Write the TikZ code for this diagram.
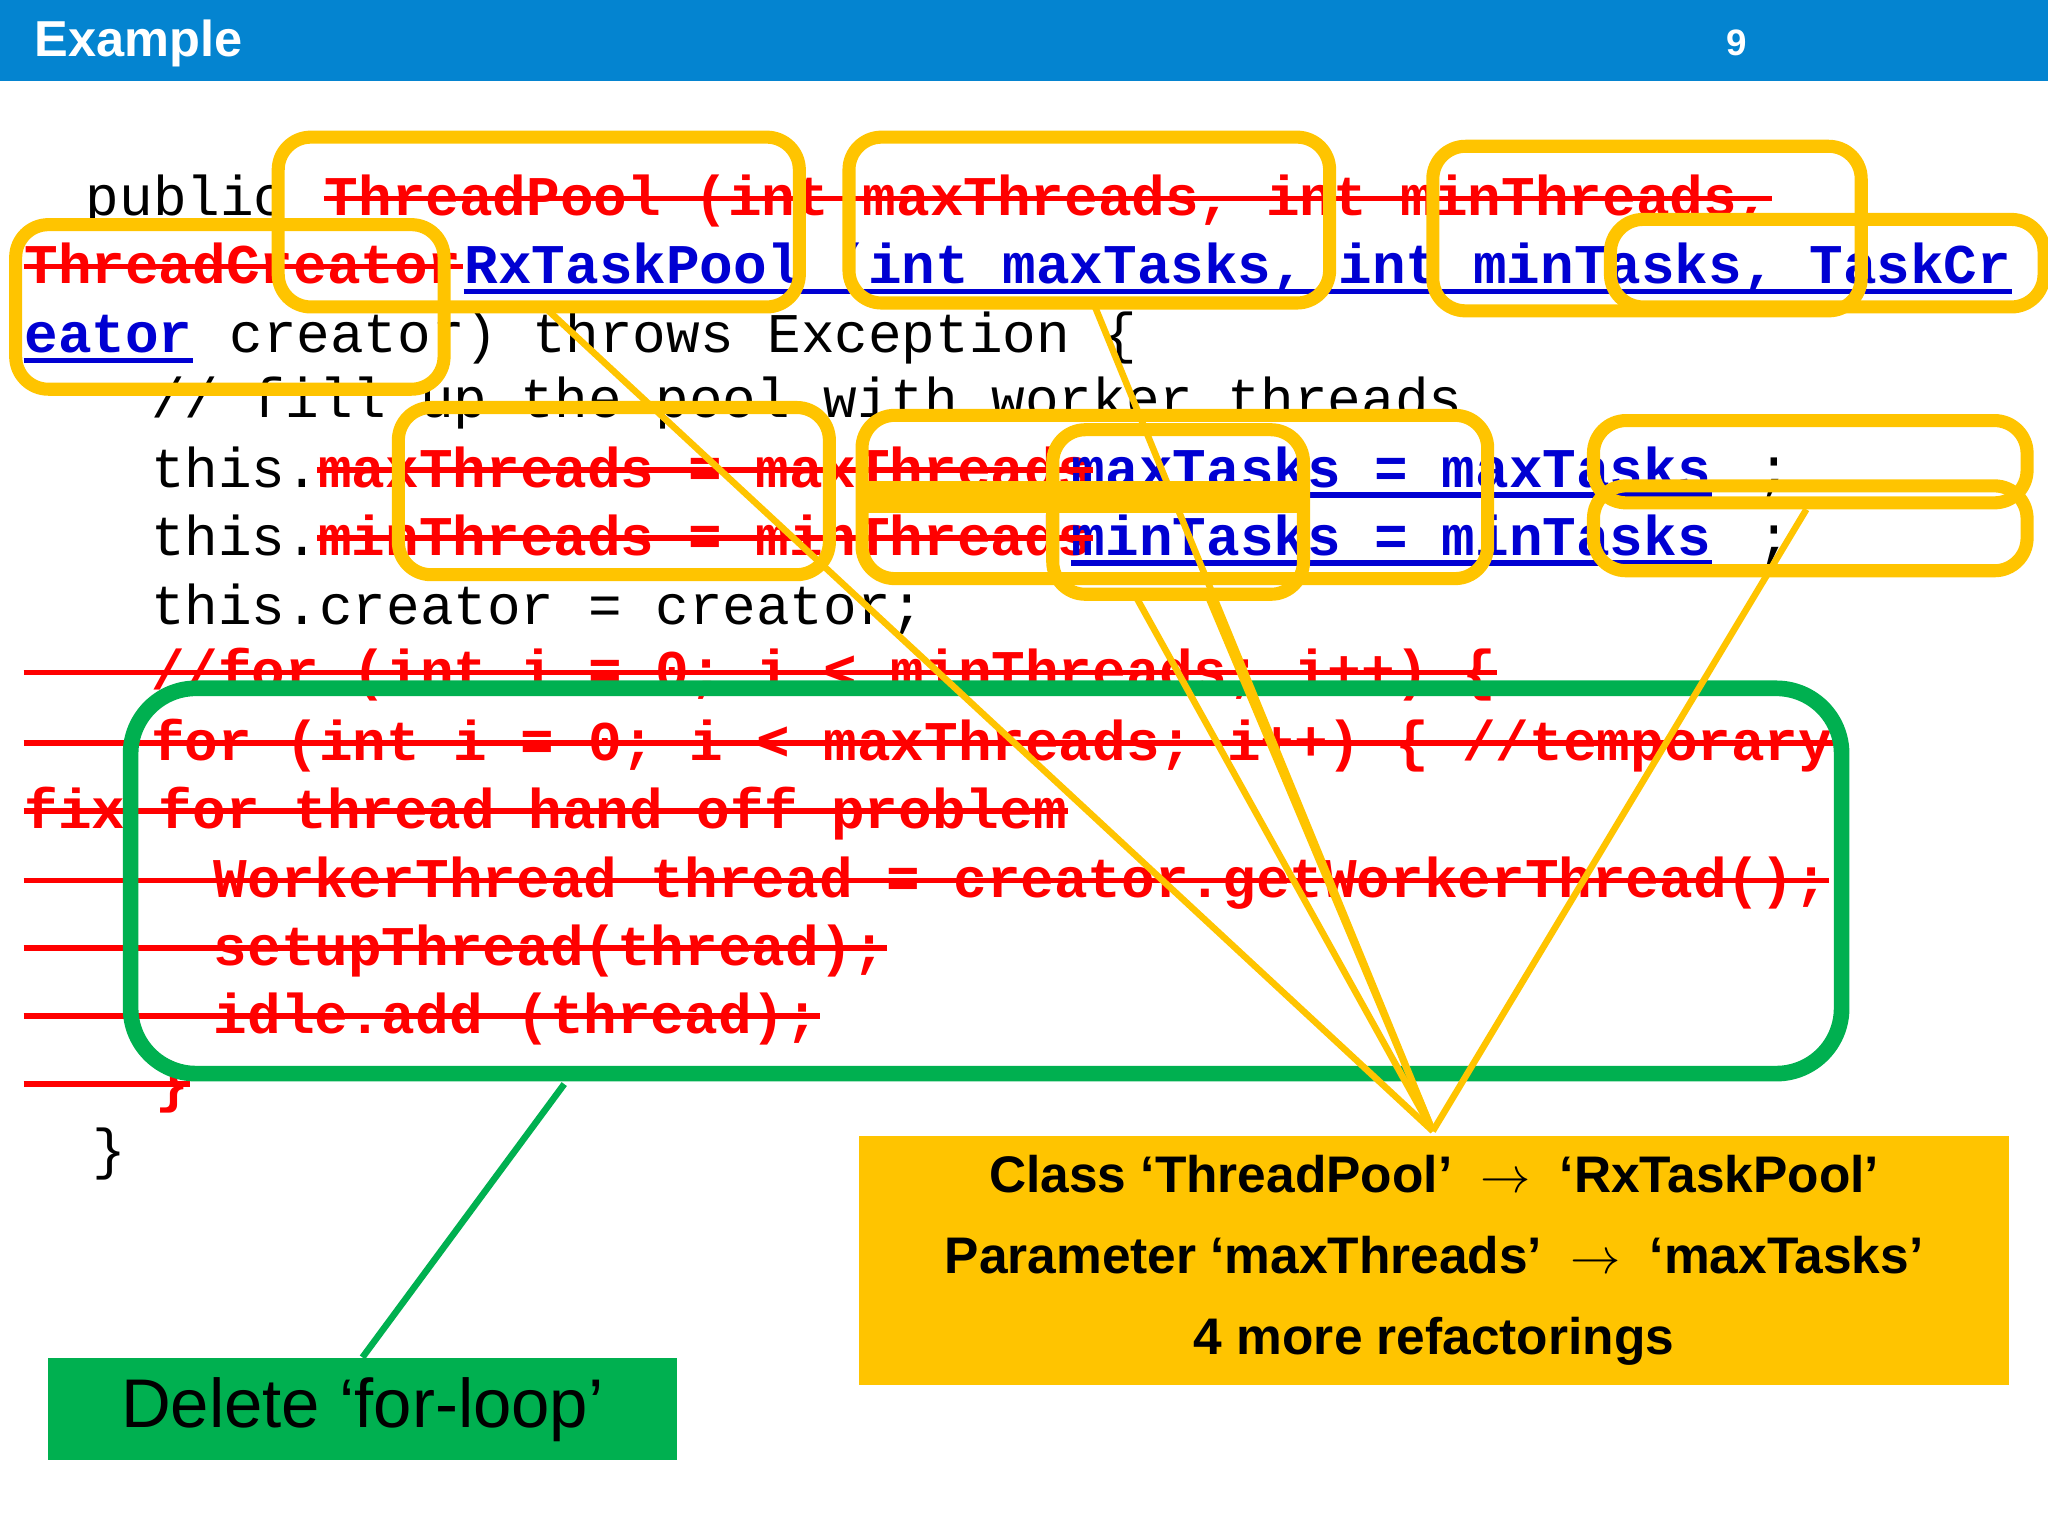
\documentclass[tikz,border=0pt]{standalone}
\usepackage{fontspec}
\setmainfont{Liberation Sans}
\newfontfamily\codefont{Liberation Mono}
\definecolor{hdr}{RGB}{4,132,208}
\definecolor{nblue}{RGB}{0,0,210}
\definecolor{yel}{RGB}{255,196,0}
\definecolor{grn}{RGB}{0,176,80}
\begin{document}
\begin{tikzpicture}[x=0.01cm,y=-0.01cm,
 code/.style={font=\codefont\fontsize{12.2}{14}\selectfont,inner sep=0,anchor=base west},
 old/.style={code,text=red,font=\codefont\bfseries\fontsize{12.2}{14}\selectfont},
 new/.style={code,text=nblue,font=\codefont\bfseries\fontsize{12.2}{14}\selectfont},
 strike/.style={red,line width=1.2pt},
 uline/.style={nblue,line width=1.2pt},
 ybox/.style={draw=yel,line width=0.1cm,rounded corners=0.25cm},
 yline/.style={draw=yel,line width=0.05cm}]
\useasboundingbox (0,0) rectangle (1568,1176);
\fill[hdr] (0,0) rectangle (1568,62);
\node[anchor=west,text=white,font=\bfseries\fontsize{11}{13}\selectfont] (title) at (14,33) {Example};
\node[text=white,font=\bfseries\fontsize{8}{10}\selectfont] (pg) at (1330,33) {9};
% code
\node[code] (l1a) at (65,165) {public };
\node[old] (l1b) at (248,165) {ThreadPool (int maxThreads, int minThreads,};
\node[old] (l2a) at (18,217) {ThreadCreator};
\node[new] (l2b) at (355,217) {RxTaskPool (int maxTasks, int minTasks, TaskCr};
\node[new] (l3a) at (18,270) {eator};
\node[code] (l3b) at (175,270) {creator) throws Exception \{};
\node[code] (l4) at (115,320) {// fill up the pool with worker threads};
\node[code] (l5a) at (115,373) {this.};
\node[old] (l5b) at (243,373) {maxThreads = maxThreads};
\node[new] (l5c) at (820,373) {maxTasks = maxTasks};
\node[code] (l5d) at (1345,373) {;};
\node[code] (l6a) at (115,425) {this.};
\node[old] (l6b) at (243,425) {minThreads = minThreads};
\node[new] (l6c) at (820,425) {minTasks = minTasks};
\node[code] (l6d) at (1345,425) {;};
\node[code] (l7) at (115,478) {this.creator = creator;};
\node[old] (l8) at (115,528) {//for (int i = 0; i < minThreads; i++) \{};
\node[old] (l9) at (115,582) {for (int i = 0; i < maxThreads; i++) \{ //temporary};
\node[old] (l10) at (18,634) {fix for thread hand off problem};
\node[old] (l11) at (163,687) {WorkerThread thread = creator.getWorkerThread();};
\node[old] (l12) at (163,739) {setupThread(thread);};
\node[old] (l13) at (163,791) {idle.add (thread);};
\node[old] (l14) at (118,843) {\}};
\node[code] (l15) at (70,895) {\}};
% strikes
\foreach \n in {l1b,l2a,l5b,l6b,l10} \draw[strike] ([yshift=0.13cm]\n.base west) -- ([yshift=0.13cm]\n.base east);
\foreach \n in {l8,l9,l11,l12,l13,l14} \draw[strike] ([yshift=0.13cm]\n.base west -| l10.west) -- ([yshift=0.13cm]\n.base east);
\foreach \n in {l2b,l3a,l5c,l6c} \draw[uline] ([yshift=-0.06cm]\n.base west) -- ([yshift=-0.06cm]\n.base east);
% green
\draw[grn,line width=0.12cm,rounded corners=0.5cm] (100,527) rectangle (1410,822);
\node[fill=grn,minimum width=4.81cm,minimum height=0.78cm,font=\fontsize{15}{18}\selectfont] (del) at (277.5,1079) {Delete ‘for-loop’};
\coordinate (gs) at (432,830);
\draw[grn,line width=0.05cm] (gs) -- (del.north);
% yellow box
\node[fill=yel,minimum width=8.8cm,minimum height=1.9cm,align=center,font=\bfseries\fontsize{11.2}{17.6}\selectfont] (info) at (1098,965) {Class ‘ThreadPool’ \ $\rightarrow$ \ ‘RxTaskPool’\\Parameter ‘maxThreads’ \ $\rightarrow$ \ ‘maxTasks’\\4 more refactorings};
\coordinate (tip) at (1097,866);
\foreach \p in {(420,238),(838,234),(867,452),(923,452),(1383,390)} \draw[yline] \p -- (tip);
\draw[ybox] (213,105) rectangle (612,235);
\draw[ybox] (650,105) rectangle (1018,232);
\draw[ybox] (1097,112) rectangle (1425,238);
\draw[ybox] (1233,168) rectangle (1565,235);
\draw[ybox] (12,172) rectangle (340,298);
\draw[ybox] (305,312) rectangle (635,440);
\draw[ybox] (660,318) rectangle (1139,443);
\draw[ybox] (806,329) rectangle (998,455);
\fill[yel] (660,368) rectangle (998,393);
\draw[ybox] (1220,322) rectangle (1552,385);
\draw[ybox] (1220,372) rectangle (1552,437);
\end{tikzpicture}
\end{document}
